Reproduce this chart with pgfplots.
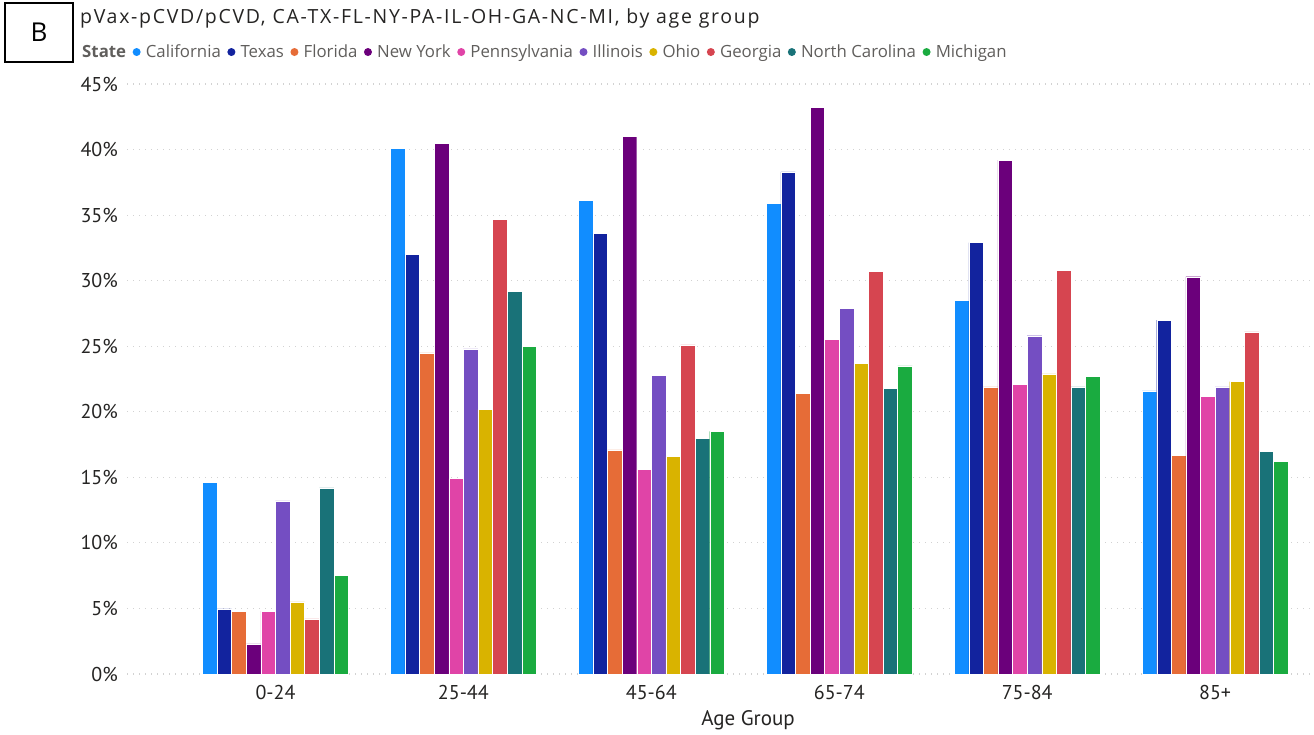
\documentclass[border=0pt]{standalone}
\usepackage{pgfplots}
\pgfplotsset{compat=1.18}
\usepackage{pgfplotstable}
\usepackage{fontspec}
\setmainfont{Open Sans}
\newfontfamily\dinfont{PT Sans}
\newfontfamily\titlefont[LetterSpace=8.7]{Open Sans}
\definecolor{cCA}{HTML}{118DFF}
\definecolor{cTX}{HTML}{12239E}
\definecolor{cFL}{HTML}{E66C37}
\definecolor{cNY}{HTML}{6B007B}
\definecolor{cPA}{HTML}{E044A7}
\definecolor{cIL}{HTML}{744EC2}
\definecolor{cOH}{HTML}{D9B300}
\definecolor{cGA}{HTML}{D64550}
\definecolor{cNC}{HTML}{197278}
\definecolor{cMI}{HTML}{1AAB40}
\definecolor{txtdark}{HTML}{252423}
\definecolor{txtgray}{HTML}{605E5C}
\pgfplotstableread{
x  CA   TX   FL   NY   PA   IL   OH   GA   NC   MI
0  14.6 4.96 4.8  2.3  4.8  13.2 5.5  4.2  14.2 7.5
1  40.1 32.0 24.5 40.5 14.9 24.8 20.2 34.7 29.2 25.0
2  36.1 33.6 17.1 41.0 15.6 22.8 16.6 25.1 18.0 18.5
3  35.9 38.3 21.4 43.2 25.5 27.9 23.7 30.7 21.8 23.5
4  28.5 32.9 21.9 39.2 22.1 25.8 22.9 30.8 21.9 22.7
5  21.6 27.0 16.7 30.3 21.2 21.9 22.3 26.1 17.0 16.2
}\datatable
\pgfplotsset{dotleg/.style={legend image code/.code={\fill[##1,draw=none] (2pt,0pt) circle (4pt); \path (9pt,0pt);}}}
\begin{document}
\begin{tikzpicture}[x=1pt,y=1pt]
\useasboundingbox (0,0) rectangle (1314,734);
\draw[line width=2pt] (5,672) rectangle (73,731);
\node[font=\fontsize{26}{26}\selectfont, text=black] at (39,701.5) {B};
\node[anchor=west, inner sep=0pt, font=\titlefont\fontsize{19.5}{19.5}\selectfont, text=txtdark] at (80,716) {pVax-pCVD/pCVD, CA-TX-FL-NY-PA-IL-OH-GA-NC-MI, by age group};
\begin{axis}[
  at={(127pt,60pt)}, anchor=south west,
  scale only axis, width=1183pt, height=590pt,
  ymin=0, ymax=45, xmin=-0.79, xmax=5.505,
  ytick={0,5,...,45},
  yticklabels={0\%,5\%,10\%,15\%,20\%,25\%,30\%,35\%,40\%,45\%},
  xtick={0,...,5},
  xticklabels={0-24,25-44,45-64,65-74,75-84,85+},
  ymajorgrids,
  grid style={dash pattern=on 1.2pt off 4.8pt, line width=1.2pt, color=gray!35},
  axis line style={draw=none},
  major tick length=0pt,
  ybar=0pt, bar width=0.0777,
  tick label style={font=\dinfont\fontsize{20}{20}\selectfont, text=txtdark},
  yticklabel style={anchor=east, inner sep=0pt, xshift=-9pt},
  xticklabel style={anchor=north, inner sep=0pt, yshift=-11pt},
  xlabel={Age Group},
  xlabel style={at={(axis description cs:0.525,-0.078)}, anchor=center, font=\dinfont\fontsize{21}{21}\selectfont, text=txtdark},
  legend columns=-1,
  legend style={at={(axis description cs:-0.0397,1.0542)}, anchor=west, draw=none, fill=none,
    font=\fontsize{16.8}{16.8}\selectfont, text=txtgray, inner sep=0pt,
    /tikz/every even column/.append style={column sep=4.5pt},
    /tikz/every odd column/.append style={column sep=0pt}},
]
\addlegendimage{empty legend}
\addlegendentry{\textbf{State}\hspace{9pt}}
\addplot[fill=cCA, draw=white, line width=0.4pt, dotleg] table[x=x,y=CA]{\datatable};
\addlegendentry{California}
\addplot[fill=cTX, draw=white, line width=0.4pt, dotleg] table[x=x,y=TX]{\datatable};
\addlegendentry{Texas}
\addplot[fill=cFL, draw=white, line width=0.4pt, dotleg] table[x=x,y=FL]{\datatable};
\addlegendentry{Florida}
\addplot[fill=cNY, draw=white, line width=0.4pt, dotleg] table[x=x,y=NY]{\datatable};
\addlegendentry{New York}
\addplot[fill=cPA, draw=white, line width=0.4pt, dotleg] table[x=x,y=PA]{\datatable};
\addlegendentry{Pennsylvania}
\addplot[fill=cIL, draw=white, line width=0.4pt, dotleg] table[x=x,y=IL]{\datatable};
\addlegendentry{Illinois}
\addplot[fill=cOH, draw=white, line width=0.4pt, dotleg] table[x=x,y=OH]{\datatable};
\addlegendentry{Ohio}
\addplot[fill=cGA, draw=white, line width=0.4pt, dotleg] table[x=x,y=GA]{\datatable};
\addlegendentry{Georgia}
\addplot[fill=cNC, draw=white, line width=0.4pt, dotleg] table[x=x,y=NC]{\datatable};
\addlegendentry{North Carolina}
\addplot[fill=cMI, draw=white, line width=0.4pt, dotleg] table[x=x,y=MI]{\datatable};
\addlegendentry{Michigan}
\end{axis}
\end{tikzpicture}
\end{document}
